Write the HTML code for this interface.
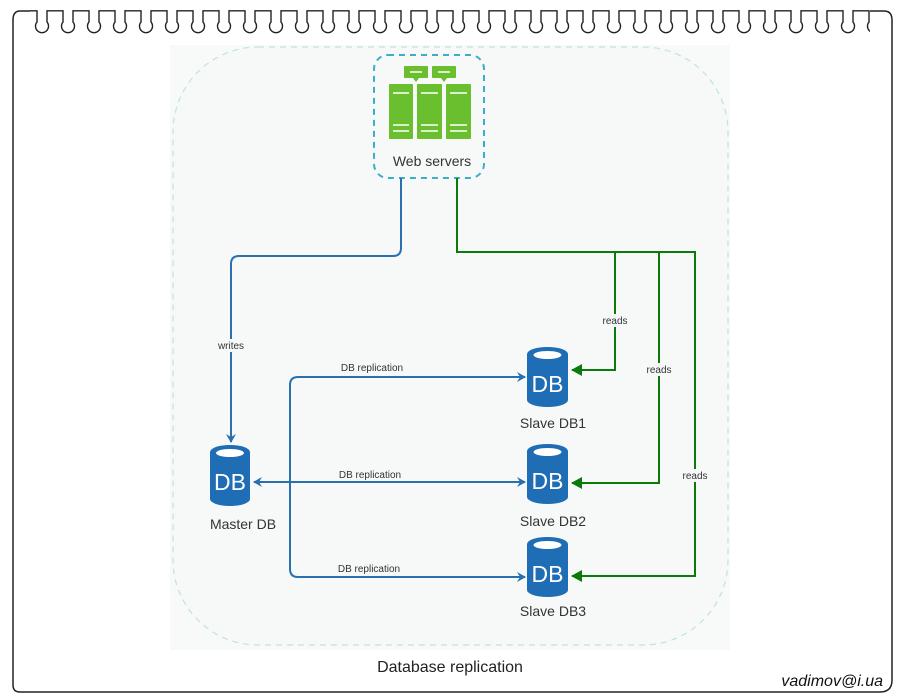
<!DOCTYPE html>
<html><head><meta charset="utf-8"><style>
html,body{margin:0;padding:0;background:#fff;}
svg{display:block;}
text{font-family:"Liberation Sans",sans-serif;}
</style></head><body>
<svg width="900" height="700" viewBox="0 0 900 700" xmlns="http://www.w3.org/2000/svg">
<defs>
<pattern id="loops" x="30" y="10" width="26" height="30" patternUnits="userSpaceOnUse">
<path d="M0,0.8 H7 V12 A6.5,6.5 0 1,0 17,12 V0.8 H26" fill="none" stroke="#222" stroke-width="1.4"/>
</pattern>
<marker id="ab" markerWidth="10" markerHeight="10" refX="8" refY="5" orient="auto" markerUnits="userSpaceOnUse"><path d="M0,0 L9,5 L0,10 L3,5 Z" fill="#2a6fb0"/></marker>
<marker id="ag" markerWidth="12" markerHeight="12" refX="10" refY="6" orient="auto" markerUnits="userSpaceOnUse"><path d="M0,0 L11,6 L0,12 Z" fill="#0a7a0a"/></marker>
</defs>
<path d="M30,11 H20 Q13,11 13,20 V685 Q13,692 20,692 H880 Q892,692 892,680 V20 Q892,11 884,11 H870" fill="none" stroke="#222" stroke-width="1.5"/>
<rect x="30" y="10" width="840" height="28" fill="url(#loops)"/>
<rect x="170" y="45" width="560" height="605" fill="#f8f9f9"/>
<rect x="173" y="47" width="555" height="598" rx="85" fill="#f7f9f9" stroke="#bfe3e3" stroke-width="1.2" stroke-dasharray="6,5"/>
<rect x="374" y="55" width="110" height="123" rx="14" fill="#f7f9f9" stroke="#3ab0c8" stroke-width="2" stroke-dasharray="6,5"/>
<g fill="#6abf2e">
<rect x="404" y="66" width="24" height="12" rx="1"/><path d="M413,78 l3,4 l3,-4z"/>
<rect x="432" y="66" width="24" height="12" rx="1"/><path d="M441,78 l3,4 l3,-4z"/>
<rect x="389" y="84" width="24" height="55" rx="1"/>
<rect x="417" y="84" width="25" height="55" rx="1"/>
<rect x="446" y="84" width="25" height="55" rx="1"/>
</g>
<g stroke="#fff" stroke-width="1.5">
<line x1="410" y1="72" x2="422" y2="72"/><line x1="438" y1="72" x2="450" y2="72"/>
<line x1="393" y1="93" x2="409" y2="93"/><line x1="421" y1="93" x2="438" y2="93"/><line x1="450" y1="93" x2="467" y2="93"/>
<line x1="393" y1="125" x2="409" y2="125"/><line x1="421" y1="125" x2="438" y2="125"/><line x1="450" y1="125" x2="467" y2="125"/>
<line x1="393" y1="131" x2="409" y2="131"/><line x1="421" y1="131" x2="438" y2="131"/><line x1="450" y1="131" x2="467" y2="131"/>
</g>
<text x="432" y="166" font-size="14" fill="#333" text-anchor="middle">Web servers</text>
<path d="M401,178 V248 Q401,256 393,256 H239 Q231,256 231,264 V442" fill="none" stroke="#2a6fb0" stroke-width="2" marker-end="url(#ab)"/>
<rect x="214" y="339" width="34" height="13" fill="#f7f9f9"/>
<text x="231" y="349" font-size="10" fill="#333" text-anchor="middle">writes</text>
<path d="M525,377 H298 Q290,377 290,385 V569 Q290,577 298,577 H525" fill="none" stroke="#2a6fb0" stroke-width="2" marker-end="url(#ab)"/>
<path d="M515,377 H525" fill="none" stroke="#2a6fb0" stroke-width="2" marker-end="url(#ab)"/>
<path d="M258,482 H525" fill="none" stroke="#2a6fb0" stroke-width="2" marker-end="url(#ab)"/>
<path d="M262,482 L254,482" stroke="#2a6fb0" stroke-width="2" marker-end="url(#ab)"/>
<text x="372" y="371" font-size="10" fill="#333" text-anchor="middle">DB replication</text>
<text x="370" y="478" font-size="10" fill="#333" text-anchor="middle">DB replication</text>
<text x="369" y="572" font-size="10" fill="#333" text-anchor="middle">DB replication</text>
<path d="M457,178 V252 H695 V576 H572" fill="none" stroke="#0a7a0a" stroke-width="2" marker-end="url(#ag)"/>
<path d="M615,252 V370 H572" fill="none" stroke="#0a7a0a" stroke-width="2" marker-end="url(#ag)"/>
<path d="M659,252 V483 H572" fill="none" stroke="#0a7a0a" stroke-width="2" marker-end="url(#ag)"/>
<rect x="599" y="314" width="32" height="13" fill="#f7f9f9"/><text x="615" y="324" font-size="10" fill="#333" text-anchor="middle">reads</text>
<rect x="643" y="363" width="32" height="13" fill="#f7f9f9"/><text x="659" y="373" font-size="10" fill="#333" text-anchor="middle">reads</text>
<rect x="679" y="469" width="32" height="13" fill="#f7f9f9"/><text x="695" y="479" font-size="10" fill="#333" text-anchor="middle">reads</text>
<g font-size="23" fill="#fff" text-anchor="middle">
<path d="M210,452 A20,7 0 0,1 250,452 V499 A20,7 0 0,1 210,499 Z" fill="#1f6db5"/>
<ellipse cx="230" cy="453" rx="14" ry="4" fill="#fff"/>
<text x="230" y="490">DB</text>
<path d="M527,354 A20.5,7 0 0,1 568,354 V400 A20.5,7 0 0,1 527,400 Z" fill="#1f6db5"/>
<ellipse cx="547.5" cy="355" rx="14" ry="4" fill="#fff"/>
<text x="547.5" y="392">DB</text>
<path d="M527,451 A20.5,7 0 0,1 568,451 V497 A20.5,7 0 0,1 527,497 Z" fill="#1f6db5"/>
<ellipse cx="547.5" cy="452" rx="14" ry="4" fill="#fff"/>
<text x="547.5" y="489">DB</text>
<path d="M527,544 A20.5,7 0 0,1 568,544 V590 A20.5,7 0 0,1 527,590 Z" fill="#1f6db5"/>
<ellipse cx="547.5" cy="545" rx="14" ry="4" fill="#fff"/>
<text x="547.5" y="582">DB</text>
</g>
<g font-size="14" fill="#333" text-anchor="middle">
<text x="243" y="529">Master DB</text>
<text x="553" y="428">Slave DB1</text>
<text x="553" y="526">Slave DB2</text>
<text x="553" y="616">Slave DB3</text>
</g>
<text x="450" y="672" font-size="16" fill="#222" text-anchor="middle">Database replication</text>
<text x="883" y="686" font-size="16" fill="#111" font-style="italic" text-anchor="end">vadimov@i.ua</text>
</svg>
</body></html>
